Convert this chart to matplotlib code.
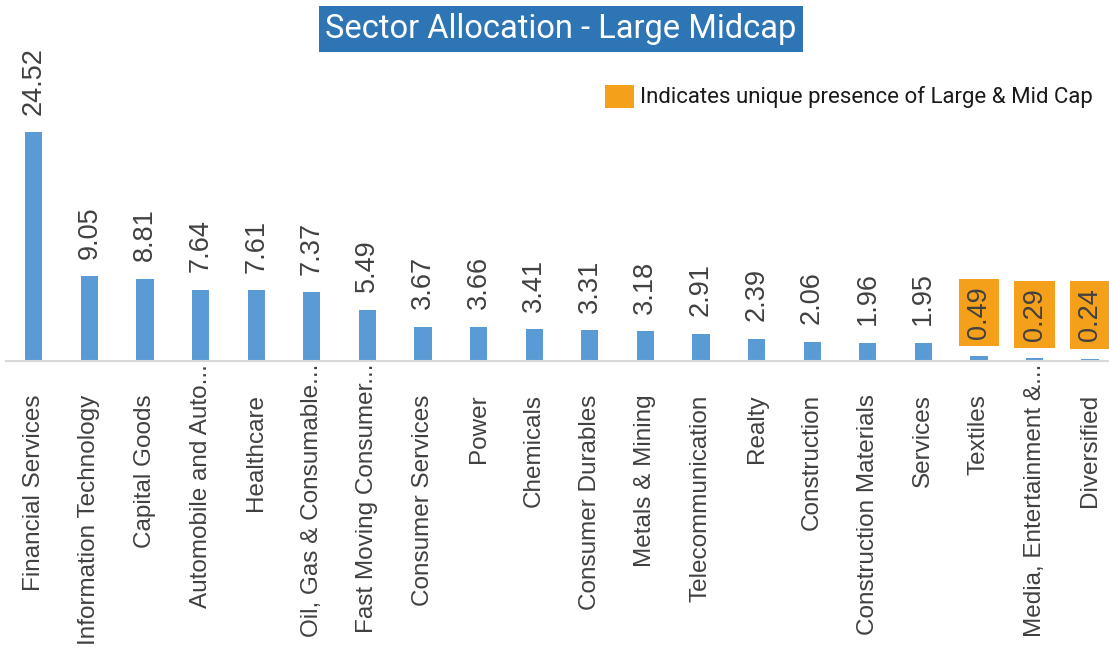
import matplotlib
matplotlib.use("Agg")
import matplotlib.pyplot as plt
from matplotlib.patches import Rectangle
from matplotlib.transforms import ScaledTranslation

sectors = [
    "Financial Services", "Information Technology", "Capital Goods",
    "Automobile and Auto...", "Healthcare", "Oil, Gas & Consumable...",
    "Fast Moving Consumer...", "Consumer Services", "Power", "Chemicals",
    "Consumer Durables", "Metals & Mining", "Telecommunication", "Realty",
    "Construction", "Construction Materials", "Services", "Textiles",
    "Media, Entertainment &...", "Diversified",
]
weights = [24.52, 9.05, 8.81, 7.64, 7.61, 7.37, 5.49, 3.67, 3.66, 3.41,
           3.31, 3.18, 2.91, 2.39, 2.06, 1.96, 1.95, 0.49, 0.29, 0.24]
unique = ["Textiles", "Media, Entertainment &...", "Diversified"]

BLUE = "#5B9BD5"
ORANGE = "#F5A01A"
TITLE_BG = "#2E75B6"
TXT = "#404040"

fig = plt.figure(figsize=(11.09, 6.61), dpi=100)
W, H = 1109, 661
ax = fig.add_axes([6 / W, 1 - 361 / H, 1 - 6 / W, (361 - 40) / H])

x = list(range(len(sectors)))
ax.bar(x, weights, width=0.31, color=BLUE, zorder=2)
ax.set_xlim(-0.5, 19.34)
ax.set_ylim(0, 34.37)

for xi, v, s in zip(x, weights, sectors):
    box = None
    if s in unique:
        box = dict(boxstyle="square,pad=0.27", fc=ORANGE, ec="none")
    ax.annotate(f"{v:.2f}", (xi, v), xytext=(0, 12.5), textcoords="offset points",
                rotation=90, ha="center", va="bottom", fontsize=19.5, color=TXT,
                family="Liberation Sans", bbox=box)

ax.set_xticks(x)
ax.set_xticklabels(sectors, rotation=90, fontsize=17.5, color=TXT,
                   family="Liberation Sans", va="top")
ax.tick_params(axis="x", length=0, pad=24)
# truncated labels sit right under the axis
for lbl in ax.get_xticklabels():
    if lbl.get_text().endswith("..."):
        lbl.set_transform(lbl.get_transform()
                          + ScaledTranslation(0, 22 / 72, fig.dpi_scale_trans))
ax.set_yticks([])
for side in ["top", "right", "left"]:
    ax.spines[side].set_visible(False)
ax.spines["bottom"].set_color("#D9D9D9")
ax.spines["bottom"].set_linewidth(1.5)
ax.patch.set_visible(False)

# title box
fig.text(561 / W, 1 - 29 / H, "Sector Allocation - Large Midcap", ha="center",
         va="center", fontsize=23.5, color="white", family="Roboto",
         bbox=dict(boxstyle="square,pad=0.2", fc=TITLE_BG, ec="none"))

# legend
fig.patches.append(Rectangle((605 / W, 1 - 108 / H), 29 / W, 23 / H,
                             transform=fig.transFigure, fc=ORANGE, ec="none"))
fig.text(640 / W, 1 - 97 / H, "Indicates unique presence of Large & Mid Cap",
         ha="left", va="center", fontsize=16, color="#1a1a1a", family="Roboto")

fig.savefig("out.png", dpi=100)
